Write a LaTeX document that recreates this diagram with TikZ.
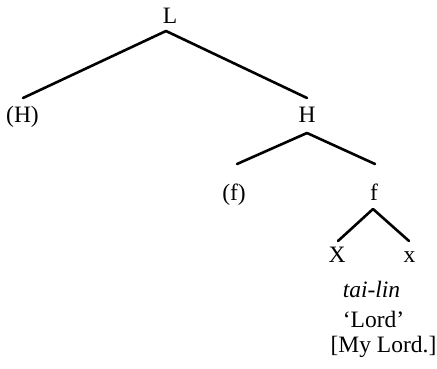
\documentclass[tikz,border=0pt]{standalone}
\usepackage{fontspec}
\setmainfont{Liberation Serif}
\begin{document}
\begin{tikzpicture}[x=1pt,y=-1pt,
  lbl/.style={anchor=base,inner sep=0pt,font=\fontsize{23.5}{28}\selectfont},
  branch/.style={line width=2.6pt,line cap=round,line join=round}]
\useasboundingbox (0,0) rectangle (437,368);
% labels
\node[lbl] (L)    at (170,23)  {L};
\node[lbl] (Hp)   at (22.5,122) {(H)};
\node[lbl] (H)    at (307,122) {H};
\node[lbl] (fp)   at (234,200) {(f)};
\node[lbl] (f)    at (374,200) {f};
\node[lbl] (X)    at (337,262) {X};
\node[lbl] (x)    at (409.5,262) {x};
\node[lbl] (gl)   at (371.5,297) {\textit{tai-lin}};
\node[lbl] (tr)   at (373.5,327) {`Lord'};
\node[lbl] (fr)   at (383.5,352) {[My Lord.]};
% branch points
\coordinate (Ltop) at (166,31);
\coordinate (Lleft) at (23,98);
\coordinate (Lright) at (307,98);
\coordinate (Htop) at (307,133);
\coordinate (Hleft) at (237,164);
\coordinate (Hright) at (375,164);
\coordinate (ftop) at (373,209);
\coordinate (fleft) at (338,241);
\coordinate (fright) at (409,241);
% branches
\draw[branch] (Lleft) -- (Ltop) -- (Lright);
\draw[branch] (Hleft) -- (Htop) -- (Hright);
\draw[branch] (fleft) -- (ftop) -- (fright);
\end{tikzpicture}
\end{document}
